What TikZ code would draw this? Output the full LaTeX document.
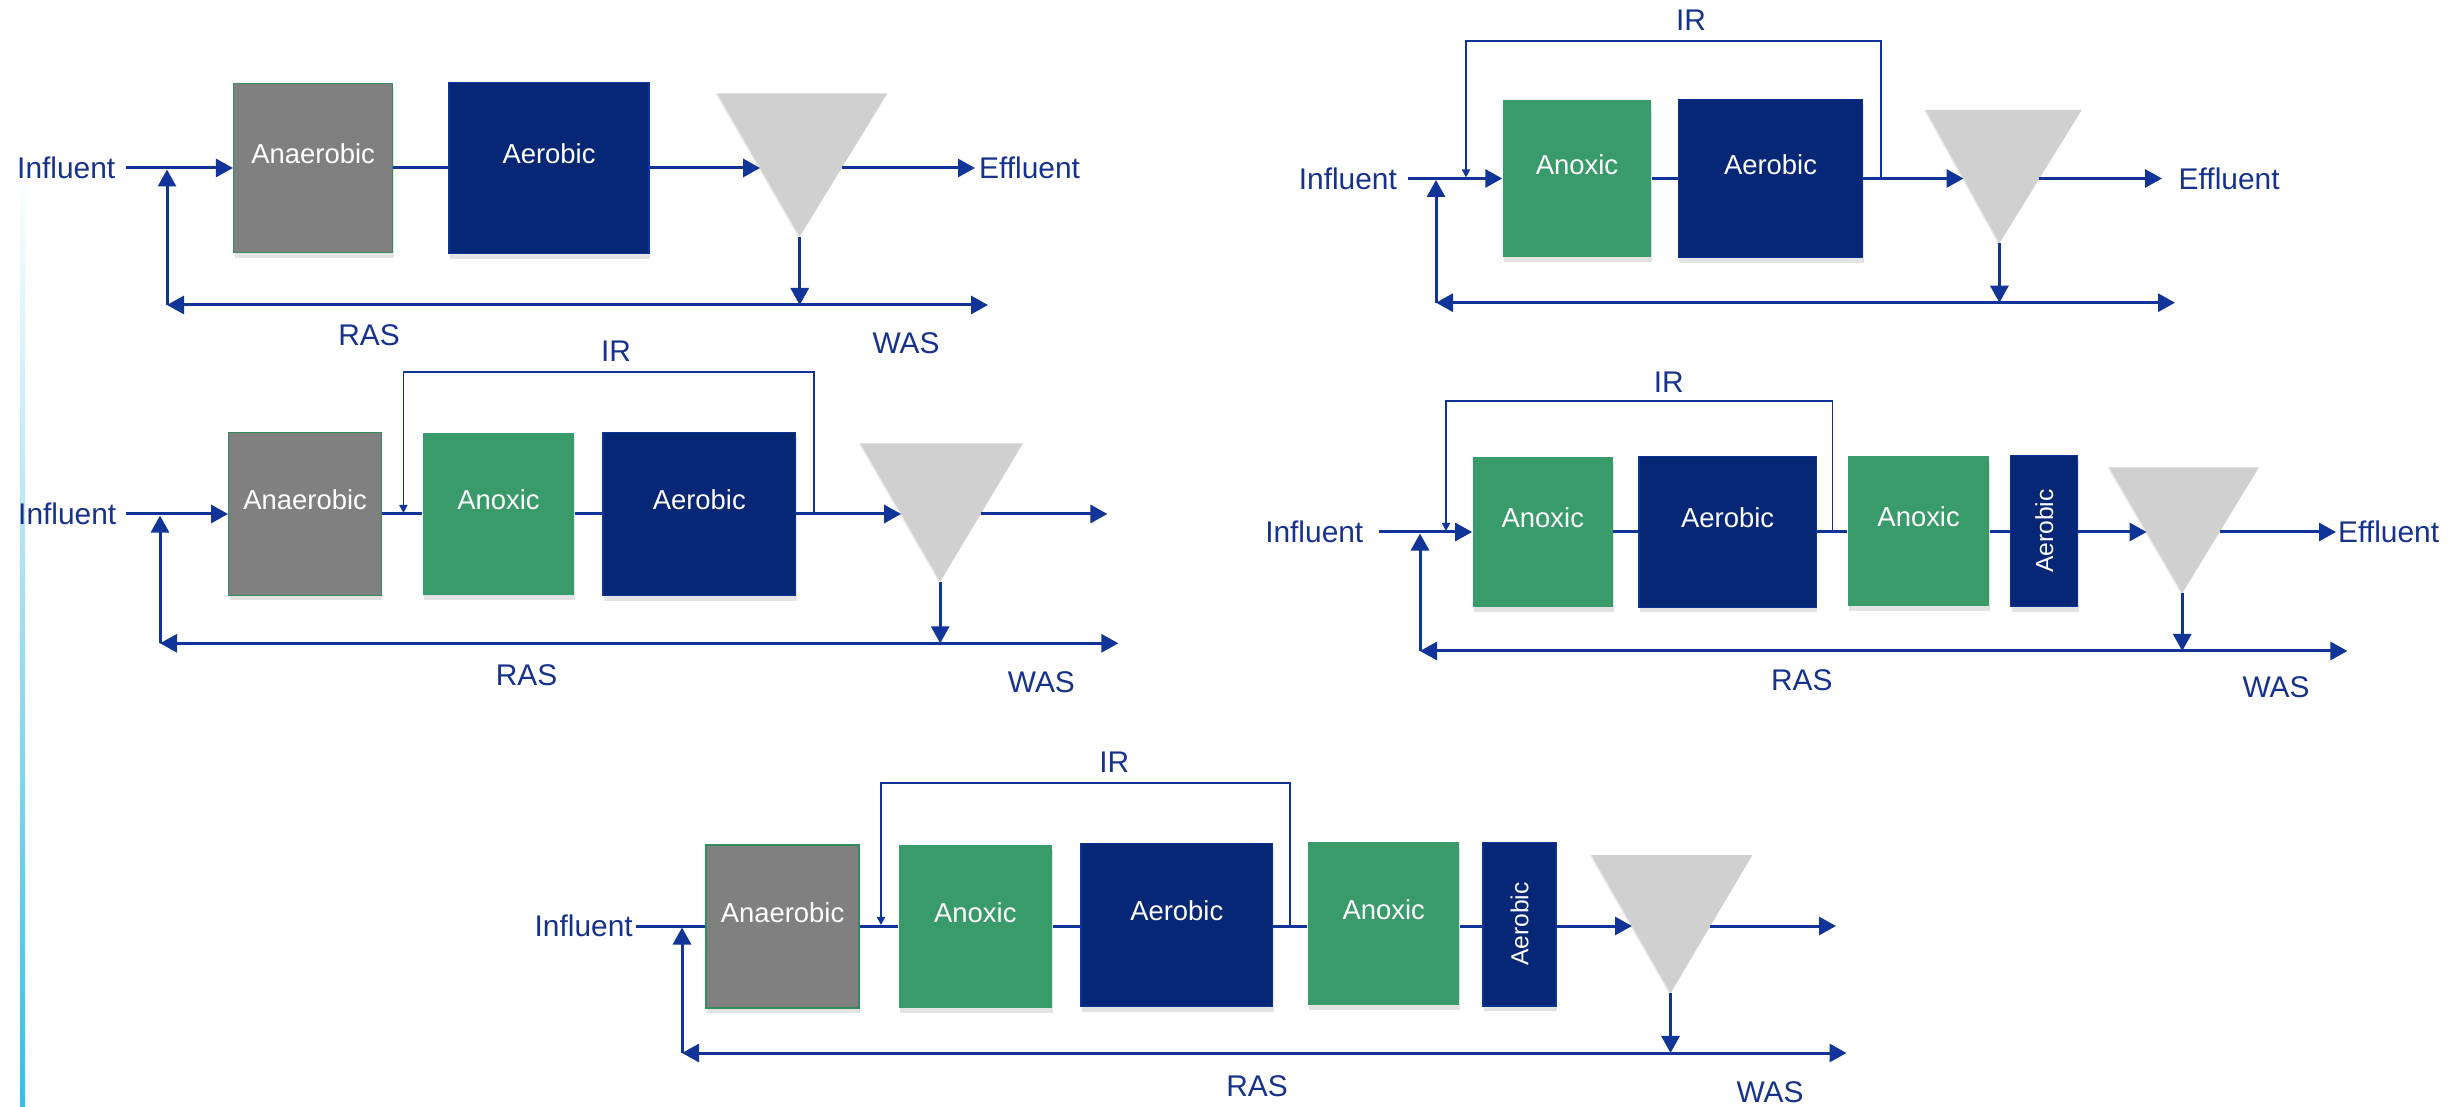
\documentclass[tikz,border=0pt]{standalone}
\usepackage{fontspec}
\usepackage{graphicx}
\setmainfont{Liberation Sans}
\usetikzlibrary{arrows.meta,shadows}
\definecolor{flow}{RGB}{16,52,152}
\definecolor{txtblue}{RGB}{22,50,140}
\definecolor{anaer}{RGB}{128,128,128}
\definecolor{anox}{RGB}{58,155,106}
\definecolor{aero}{RGB}{6,38,118}
\definecolor{aeroedge}{RGB}{12,52,150}
\definecolor{anoxedge}{RGB}{50,140,95}
\definecolor{sidebar}{RGB}{56,190,232}
\definecolor{clar}{RGB}{208,208,208}
\newcommand{\bxt}[1]{\raisebox{0.04cm}[0pt][0pt]{#1}}
\newcommand{\vxt}[1]{\rotatebox{90}{\fontsize{7}{8}\selectfont #1}}
\begin{document}
\begin{tikzpicture}[x=0.01cm,y=-0.01cm,
  lbl/.style={text=txtblue, font=\fontsize{8.5}{10}\selectfont, inner sep=0pt},
  tank/.style={inner sep=0pt, text=white, font=\fontsize{7.8}{9}\selectfont,
    drop shadow={shadow xshift=0.01cm,shadow yshift=-0.05cm,opacity=0.22}},
  anaerobicbox/.style={tank, fill=anaer, draw=anoxedge, line width=0.4pt},
  anoxicbox/.style={tank, fill=anox},
  aerobicbox/.style={tank, fill=aero, draw=aeroedge, line width=0.4pt},
  flowline/.style={draw=flow, line width=0.03cm},
  arr/.style={flowline, -{Triangle[length=0.17cm,width=0.18cm]}},
  biarr/.style={flowline, {Triangle[length=0.17cm,width=0.18cm]}-{Triangle[length=0.17cm,width=0.18cm]}},
  irline/.style={draw=flow, line width=0.017cm, -{Triangle[length=0.08cm,width=0.08cm]}},
  clarifier/.style={fill=clar, draw=none, drop shadow={shadow xshift=-0.015cm,shadow yshift=-0.005cm,opacity=0.15}},
]
\fill[white] (0,0) rectangle (2455,1107);
\useasboundingbox (0,0) rectangle (2455,1107);
\shade[top color=white, bottom color=sidebar] (20,165) rectangle (25,1107);

% ================= Diagram 1 =================
\coordinate (T1tl) at (717,93.3); \coordinate (T1tr) at (887.4,93.3); \coordinate (T1a) at (799.7,236.7);
\coordinate (T1in) at (760.1,168); \coordinate (T1out) at (841.7,168);
\path[clarifier] (T1tl) -- (T1tr) -- (T1a) -- cycle;
\node[anaerobicbox, minimum width=1.59cm, minimum height=1.69cm] (A1) at (313.2,168) {\bxt{Anaerobic}};
\node[aerobicbox, minimum width=2.00cm, minimum height=1.71cm] (B1) at (549,168) {\bxt{Aerobic}};
\node[lbl, anchor=east, inner xsep=0.1cm] (I1) at (126,168) {Influent};
\node[lbl, anchor=west, inner xsep=0.035cm] (E1) at (975,168) {Effluent};
\coordinate (R1l) at (167,305); \coordinate (R1r) at (988,305);
\coordinate (W1) at (799.7,305); \coordinate (J1) at (167,169.5);
\draw[arr] (I1.east) -- (A1.west);
\draw[flowline] (A1.east) -- (B1.west);
\draw[arr] (B1.east) -- (T1in);
\draw[arr] (T1out) -- (E1.west);
\draw[arr] (T1a) -- (W1);
\draw[biarr] (R1l) -- (R1r);
\draw[arr] (R1l) -- (J1);
\node[lbl] (RAS1) at (369,335) {RAS};
\node[lbl] (WAS1) at (906,343) {WAS};

% ================= Diagram 2 =================
\coordinate (T2tl) at (1925.5,110); \coordinate (T2tr) at (2081.7,110); \coordinate (T2a) at (1999.4,243.3);
\coordinate (T2in) at (1963.5,178.5); \coordinate (T2out) at (2039.4,178.5);
\path[clarifier] (T2tl) -- (T2tr) -- (T2a) -- cycle;
\node[anoxicbox, minimum width=1.48cm, minimum height=1.57cm] (C2) at (1577,178.5) {\bxt{Anoxic}};
\node[aerobicbox, minimum width=1.84cm, minimum height=1.58cm] (B2) at (1770.5,178.5) {\bxt{Aerobic}};
\node[lbl, anchor=east, inner xsep=0.1cm] (I2) at (1407.6,178.5) {Influent};
\node[lbl, anchor=west, inner xsep=0.16cm] (E2) at (2162,178.5) {Effluent};
\coordinate (R2l) at (1436,302.7); \coordinate (R2r) at (2175,302.7);
\coordinate (W2) at (1999.4,302.7); \coordinate (J2) at (1436,180);
\coordinate (IRs2) at (1881,178.5); \coordinate (IRt2) at (1466,40.7); \coordinate (IRe2) at (1466,177.5);
\draw[arr] (I2.east) -- (C2.west);
\draw[flowline] (C2.east) -- (B2.west);
\draw[arr] (B2.east) -- (T2in);
\draw[arr] (T2out) -- (E2.west);
\draw[arr] (T2a) -- (W2);
\draw[biarr] (R2l) -- (R2r);
\draw[arr] (R2l) -- (J2);
\draw[irline] (IRs2) |- (IRt2) -- (IRe2);
\node[lbl] (IR2) at (1691,20.7) {IR};

% ================= Diagram 3 =================
\coordinate (T3tl) at (860.3,443.3); \coordinate (T3tr) at (1023,443.3); \coordinate (T3a) at (940.2,581.7);
\coordinate (T3in) at (901.1,514); \coordinate (T3out) at (980.7,514);
\path[clarifier] (T3tl) -- (T3tr) -- (T3a) -- cycle;
\node[anaerobicbox, minimum width=1.526cm, minimum height=1.627cm] (A3) at (305.1,514) {\bxt{Anaerobic}};
\node[anoxicbox, minimum width=1.51cm, minimum height=1.62cm] (C3) at (498.5,514) {\bxt{Anoxic}};
\node[aerobicbox, minimum width=1.928cm, minimum height=1.633cm] (B3) at (699.3,514) {\bxt{Aerobic}};
\node[lbl, anchor=east, inner xsep=0.09cm] (I3) at (126,514) {Influent};
\coordinate (O3) at (1107.4,514);
\coordinate (R3l) at (160,643.3); \coordinate (R3r) at (1118.4,643.3);
\coordinate (W3) at (940.2,643.3); \coordinate (J3) at (160,515.5);
\coordinate (IRs3) at (814,514); \coordinate (IRt3) at (403.4,371.7); \coordinate (IRe3) at (403.4,513);
\draw[arr] (I3.east) -- (A3.west);
\draw[flowline] (A3.east) -- (C3.west);
\draw[flowline] (C3.east) -- (B3.west);
\draw[arr] (B3.east) -- (T3in);
\draw[arr] (T3out) -- (O3);
\draw[arr] (T3a) -- (W3);
\draw[biarr] (R3l) -- (R3r);
\draw[arr] (R3l) -- (J3);
\draw[irline] (IRs3) |- (IRt3) -- (IRe3);
\node[lbl] (IR3) at (616,351.7) {IR};
\node[lbl] (RAS3) at (526.6,675) {RAS};
\node[lbl] (WAS3) at (1041.4,682) {WAS};

% ================= Diagram 4 =================
\coordinate (T4tl) at (2109,467.3); \coordinate (T4tr) at (2259,467.3); \coordinate (T4a) at (2182.2,593.3);
\coordinate (T4in) at (2146.6,532); \coordinate (T4out) at (2219.6,532);
\path[clarifier] (T4tl) -- (T4tr) -- (T4a) -- cycle;
\node[anoxicbox, minimum width=1.398cm, minimum height=1.50cm] (C4) at (1542.8,532) {\bxt{Anoxic}};
\node[aerobicbox, minimum width=1.775cm, minimum height=1.507cm] (B4) at (1727.6,532) {\bxt{Aerobic}};
\node[anoxicbox, minimum width=1.414cm, minimum height=1.50cm] (D4) at (1918.6,531) {\bxt{Anoxic}};
\node[aerobicbox, minimum width=0.669cm, minimum height=1.51cm] (F4) at (2044.2,531) {\vxt{Aerobic}};
\node[lbl, anchor=east, inner xsep=0.15cm] (I4) at (1379,532) {Influent};
\node[lbl, anchor=west, inner xsep=0.015cm] (E4) at (2336,532) {Effluent};
\coordinate (R4l) at (1420,651); \coordinate (R4r) at (2347.4,651);
\coordinate (W4) at (2182.2,651); \coordinate (J4) at (1420,533.5);
\coordinate (IRs4) at (1832.5,532); \coordinate (IRt4) at (1446,400.7); \coordinate (IRe4) at (1446,531);
\draw[arr] (I4.east) -- (C4.west);
\draw[flowline] (C4.east) -- (B4.west);
\draw[flowline] (B4.east) -- (B4.east -| D4.west);
\draw[flowline] (B4.east -| D4.east) -- (B4.east -| F4.west);
\draw[arr] (B4.east -| F4.east) -- (T4in);
\draw[arr] (T4out) -- (E4.west);
\draw[arr] (T4a) -- (W4);
\draw[biarr] (R4l) -- (R4r);
\draw[arr] (R4l) -- (J4);
\draw[irline] (IRs4) |- (IRt4) -- (IRe4);
\node[lbl] (IR4) at (1668.8,382.3) {IR};
\node[lbl] (RAS4) at (1801.8,680) {RAS};
\node[lbl] (WAS4) at (2276,687) {WAS};

% ================= Diagram 5 =================
\coordinate (T5tl) at (1591.3,855); \coordinate (T5tr) at (1752.4,855); \coordinate (T5a) at (1670.5,993.3);
\coordinate (T5in) at (1632,926); \coordinate (T5out) at (1710.4,926);
\path[clarifier] (T5tl) -- (T5tr) -- (T5a) -- cycle;
\node[anaerobicbox, minimum width=1.53cm, minimum height=1.633cm] (A5) at (782.5,926.5) {\bxt{Anaerobic}};
\node[anoxicbox, minimum width=1.531cm, minimum height=1.633cm] (C5) at (975.3,926.5) {\bxt{Anoxic}};
\node[aerobicbox, minimum width=1.918cm, minimum height=1.634cm] (B5) at (1176.8,925) {\bxt{Aerobic}};
\node[anoxicbox, minimum width=1.513cm, minimum height=1.627cm] (D5) at (1383.7,923.7) {\bxt{Anoxic}};
\node[aerobicbox, minimum width=0.73cm, minimum height=1.637cm] (F5) at (1519.5,924.2) {\vxt{Aerobic}};
\node[lbl, anchor=east, inner xsep=0.03cm] (I5) at (636.4,926) {Influent};
\coordinate (O5) at (1836,926);
\coordinate (R5l) at (682,1053); \coordinate (R5r) at (1846.5,1053);
\coordinate (W5) at (1670.5,1053); \coordinate (J5) at (682,927.5);
\coordinate (IRs5) at (1290.3,926); \coordinate (IRt5) at (881,783.3); \coordinate (IRe5) at (881,925);
\draw[flowline] (I5.east) -- (I5.east -| A5.west);
\draw[flowline] (I5.east -| A5.east) -- (I5.east -| C5.west);
\draw[flowline] (I5.east -| C5.east) -- (I5.east -| B5.west);
\draw[flowline] (I5.east -| B5.east) -- (I5.east -| D5.west);
\draw[flowline] (I5.east -| D5.east) -- (I5.east -| F5.west);
\draw[arr] (I5.east -| F5.east) -- (T5in);
\draw[arr] (T5out) -- (O5);
\draw[arr] (T5a) -- (W5);
\draw[biarr] (R5l) -- (R5r);
\draw[arr] (R5l) -- (J5);
\draw[irline] (IRs5) |- (IRt5) -- (IRe5);
\node[lbl] (IR5) at (1114.3,762.7) {IR};
\node[lbl] (RAS5) at (1257,1086) {RAS};
\node[lbl] (WAS5) at (1770,1092) {WAS};
\end{tikzpicture}
\end{document}
